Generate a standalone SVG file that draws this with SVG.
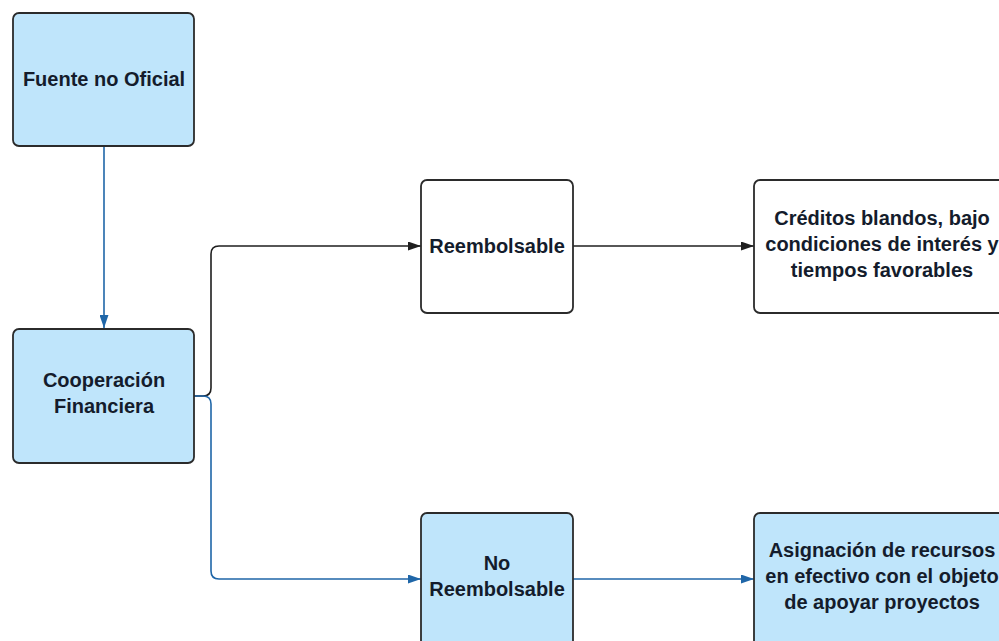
<svg xmlns="http://www.w3.org/2000/svg" width="999" height="641" viewBox="0 0 999 641">
  <style>
    .box { stroke: #2b2b2b; stroke-width: 1.8; }
    .blue { fill: #bfe5fb; }
    .white { fill: #ffffff; }
    .lbl { font-family: "Liberation Sans", Arial, sans-serif; font-weight: bold; font-size: 20px; fill: #141c2c; text-anchor: middle; }
    .link-dark { fill: none; stroke: #1f1f1f; stroke-width: 1.6; }
    .link-blue { fill: none; stroke: #1f66a8; stroke-width: 1.6; }
  </style>
  <defs>
    <marker id="arrow-dark" viewBox="0 0 13 9" refX="13" refY="4.5" markerWidth="13" markerHeight="9" markerUnits="userSpaceOnUse" orient="auto">
      <path d="M0,0 L13,4.5 L0,9 Z" fill="#1f1f1f"/>
    </marker>
    <marker id="arrow-blue" viewBox="0 0 13 9" refX="13" refY="4.5" markerWidth="13" markerHeight="9" markerUnits="userSpaceOnUse" orient="auto">
      <path d="M0,0 L13,4.5 L0,9 Z" fill="#1f66a8"/>
    </marker>
  </defs>

  <rect width="999" height="641" fill="#ffffff"/>

  <g id="connectors">
    <path class="link-blue" d="M104,146 V328" marker-end="url(#arrow-blue)"/>
    <path class="link-dark" d="M194,396 H203 Q211,396 211,388 V254 Q211,246 219,246 H421" marker-end="url(#arrow-dark)"/>
    <path class="link-blue" d="M194,396 H203 Q211,396 211,404 V571 Q211,579 219,579 H421" marker-end="url(#arrow-blue)"/>
    <path class="link-dark" d="M573,246 H754" marker-end="url(#arrow-dark)"/>
    <path class="link-blue" d="M573,579 H754" marker-end="url(#arrow-blue)"/>
  </g>

  <g id="fuente-no-oficial">
    <rect class="box blue" x="13" y="13" width="181" height="133" rx="6"/>
    <text class="lbl" x="104" y="86">Fuente no Oficial</text>
  </g>

  <g id="cooperacion-financiera">
    <rect class="box blue" x="13" y="329" width="181" height="134" rx="6"/>
    <text class="lbl" x="104" y="387">Cooperación</text>
    <text class="lbl" x="104" y="413">Financiera</text>
  </g>

  <g id="reembolsable">
    <rect class="box white" x="421" y="180" width="152" height="133" rx="6"/>
    <text class="lbl" x="497" y="253">Reembolsable</text>
  </g>

  <g id="creditos-blandos">
    <rect class="box white" x="754" y="180" width="256" height="133" rx="6"/>
    <text class="lbl" x="882" y="225">Créditos blandos, bajo</text>
    <text class="lbl" x="882" y="251">condiciones de interés y</text>
    <text class="lbl" x="882" y="277">tiempos favorables</text>
  </g>

  <g id="no-reembolsable">
    <rect class="box blue" x="421" y="513" width="152" height="140" rx="6"/>
    <text class="lbl" x="497" y="570">No</text>
    <text class="lbl" x="497" y="596">Reembolsable</text>
  </g>

  <g id="asignacion-recursos">
    <rect class="box blue" x="754" y="513" width="256" height="140" rx="6"/>
    <text class="lbl" x="882" y="557">Asignación de recursos</text>
    <text class="lbl" x="882" y="583">en efectivo con el objeto</text>
    <text class="lbl" x="882" y="609">de apoyar proyectos</text>
  </g>
</svg>
